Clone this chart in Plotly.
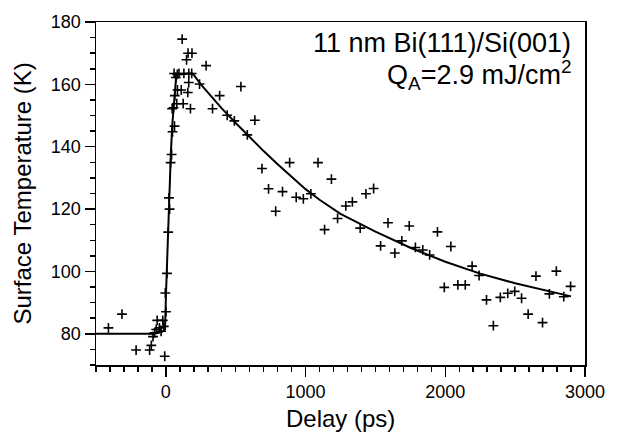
import plotly.graph_objects as go

# measured data points (delay in ps, surface temperature in K)
delay_ps = [-411, -314, -213, -116, -104, -92, -81, -69, -62, -46, -34, -22, -15, -8,
            1, -4, 8, 17, 27, 22, 34, 41, 48, 62, 45, 55, 78, 124, 64, 83, 110, 157, 176,
            71, 59, 94, 129, 164, 185, 82, 164, 117, 148, 159, 187,
            241, 288, 385, 334, 537, 439, 490, 637, 583, 688, 735, 786, 835, 886, 933, 984,
            1038, 1089, 1136, 1185, 1229, 1288, 1335, 1391, 1432, 1487, 1537, 1590, 1639,
            1689, 1742, 1786, 1839, 1888, 1944, 1993, 2040, 2090, 2143, 2192, 2242, 2295,
            2344, 2394, 2447, 2497, 2546, 2593, 2649, 2696, 2745, 2795, 2848, 2897]
temp_K = [81.9, 86.3, 74.8, 74.8, 76.3, 79.1, 80.3, 81.4, 84.3, 81.9, 80.8, 84.3, 82.4, 72.8,
          87.1, 93.1, 99.4, 112.6, 120.0, 123.6, 134.9, 137.5, 144.8, 146.6, 152.2, 152.5,
          153.8, 153.8, 156.4, 158.2, 158.2, 157.4, 152.2,
          162.2, 163.5, 163.5, 163.5, 163.5, 163.5, 163.2, 160.6, 174.5, 167.9, 170.0, 170.0,
          160.1, 166.0, 156.4, 152.2, 159.3, 150.1, 148.3, 148.5, 143.8, 133.0, 126.5, 119.3,
          125.6, 134.9, 123.8, 123.3, 124.9, 134.9, 113.4, 129.6, 117.0, 121.0, 122.3, 113.9,
          124.9, 126.6, 108.2, 115.6, 105.9, 109.8, 114.6, 107.7, 106.9, 105.3, 112.7, 94.9,
          108.0, 95.7, 95.7, 101.7, 98.7, 90.9, 82.6, 91.7, 93.0, 93.6, 91.4, 86.3, 98.5,
          83.6, 92.8, 100.1, 91.9, 95.2]

# fitted curve
fit_ps = [-500, -85, -20, -6, 1, 10, 17, 27, 36, 45, 55, 64, 75, 185, 200, 250, 300, 400,
          500, 600, 700, 800, 900, 1000, 1100, 1250, 1500, 1750, 2000, 2250, 2500, 2700, 2900]
fit_K = [80.0, 80.0, 80.8, 81.4, 92.9, 106.5, 117.0, 129.6, 138.0, 146.4, 152.7, 159.0,
         163.2, 163.5, 163.0, 160.0, 157.4, 152.3, 147.6, 143.0, 138.6, 134.4, 130.3, 126.4,
         123.0, 118.5, 112.8, 107.6, 103.1, 99.3, 96.2, 94.1, 92.0]

x_major = [0, 1000, 2000, 3000]
y_major = [80, 100, 120, 140, 160, 180]

x_title = "Delay (ps)"
y_title = "Surface Temperature (K)"
label_1 = "11 nm Bi(111)/Si(001)"
label_2 = "Q<sub>A</sub>=2.9 mJ/cm<sup>2</sup>"

font = "Liberation Sans, Arial, sans-serif"

fig = go.Figure()
fig.add_trace(go.Scatter(x=fit_ps, y=fit_K, mode="lines",
                         line=dict(color="black", width=2), hoverinfo="skip"))
fig.add_trace(go.Scatter(x=delay_ps, y=temp_K, mode="markers",
                         marker=dict(symbol="cross-thin", size=7,
                                     line=dict(color="black", width=1.6))))

axis_common = dict(ticks="outside", ticklen=10, tickwidth=1.5, tickcolor="black",
                   showgrid=False, zeroline=False, showline=True, linecolor="black",
                   linewidth=1.5, mirror=True, tickfont=dict(size=18))

fig.update_layout(
    width=617, height=441,
    margin=dict(l=96, r=21, t=15, b=76),
    paper_bgcolor="white", plot_bgcolor="white",
    showlegend=False,
    font=dict(family=font, color="black"),
    xaxis=dict(range=[-500, 3000], tickvals=x_major, **axis_common,
               minor=dict(dtick=100, tick0=0, ticks="outside", ticklen=5, tickwidth=1.5,
                          tickcolor="black", showgrid=False)),
    yaxis=dict(range=[70, 180], tickvals=y_major, **axis_common,
               minor=dict(dtick=5, tick0=0, ticks="outside", ticklen=5, tickwidth=1.5,
                          tickcolor="black", showgrid=False)),
    annotations=[
        dict(text=x_title, xref="paper", yref="paper", x=0.5, y=0, yshift=-53,
             xanchor="center", yanchor="middle", showarrow=False, font=dict(size=24)),
        dict(text=y_title, xref="paper", yref="paper", x=0, y=0.5, xshift=-74,
             xanchor="center", yanchor="middle", textangle=-90, showarrow=False,
             font=dict(size=24)),
        dict(text=label_1, xref="paper", yref="paper", x=0.975, y=0.94,
             xanchor="right", yanchor="middle", showarrow=False, font=dict(size=27)),
        dict(text=label_2, xref="paper", yref="paper", x=0.975, y=0.846,
             xanchor="right", yanchor="middle", showarrow=False, font=dict(size=27)),
    ],
)

fig.write_html("out.html",
               config={"displayModeBar": False, "staticPlot": True},
               post_script="document.body.style.margin='0';document.body.style.overflow='hidden';")
